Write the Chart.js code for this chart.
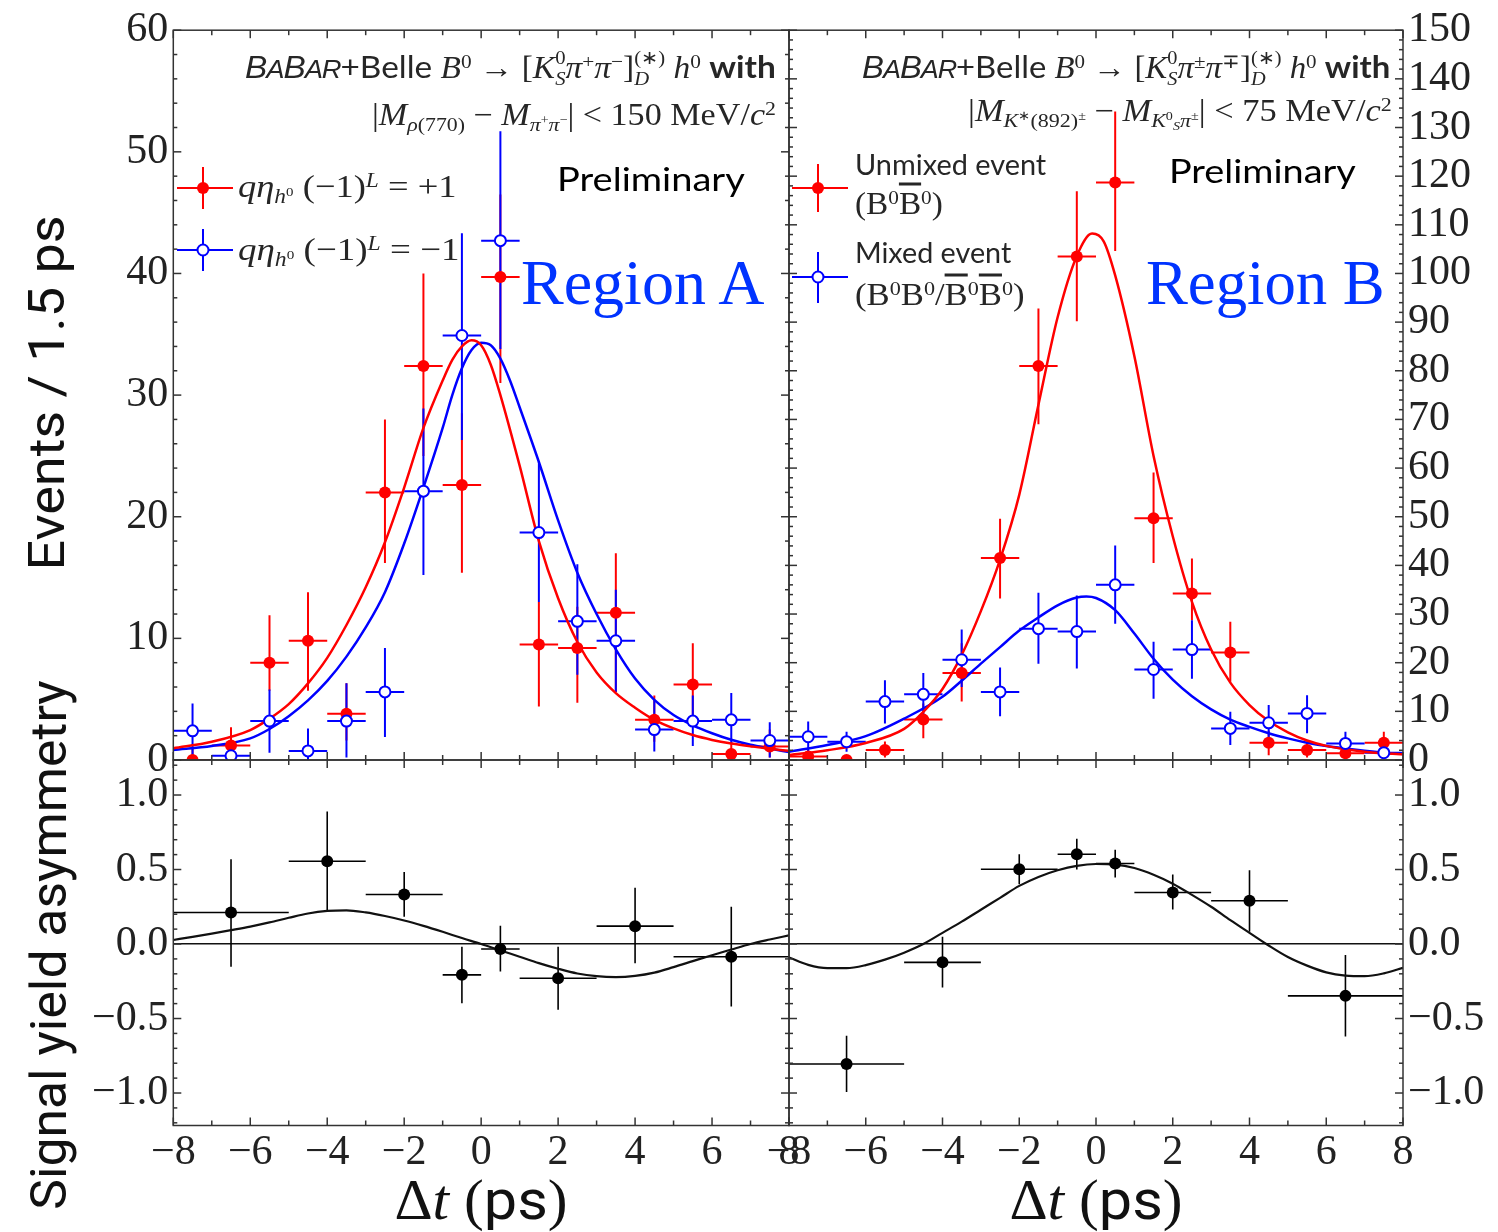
<!DOCTYPE html>
<html>
<head>
<meta charset="utf-8">
<script src="https://cdn.jsdelivr.net/npm/chart.js@4.4.1/dist/chart.umd.min.js"></script>
<style>
body { margin:0; background:#fff; width:1498px; height:1232px; position:relative; overflow:hidden; }
canvas { position:absolute; }
.t { position:absolute; white-space:nowrap; line-height:1; color:#262626; font-family:"Liberation Serif", serif; }
.r { transform-origin:right center; }
.l { transform-origin:left center; }
.sans { font-family:"Lato", "Open Sans", sans-serif; }
.t sup, .t sub { font-size:0.64em; line-height:0; position:relative; vertical-align:baseline; }
.t sup { top:-0.48em; }
.t sub { top:0.28em; }
.st { display:inline-flex; flex-direction:column; font-size:0.62em; line-height:1.1; vertical-align:0.72em; }
.babar { font-family:"Liberation Sans", sans-serif; font-style:italic; letter-spacing:-1px; }
.babar small { font-size:0.82em; }
.bar { text-decoration:overline; }
</style>
</head>
<body>
<canvas id="cTL" width="830" height="800" style="left:0;top:0"></canvas>
<canvas id="cTR" width="751" height="800" style="left:747px;top:0"></canvas>
<canvas id="cBL" width="830" height="512" style="left:0;top:720px"></canvas>
<canvas id="cBR" width="751" height="512" style="left:747px;top:720px"></canvas>

<svg width="1498" height="1232" style="position:absolute;left:0;top:0">
  <g stroke="#ff0000" stroke-width="2"><line x1="177" y1="188" x2="233" y2="188"/><line x1="203" y1="167" x2="203" y2="209"/></g>
  <circle cx="203" cy="188" r="6" fill="#ff0000"/>
  <g stroke="#0000ff" stroke-width="2"><line x1="177" y1="250" x2="233" y2="250"/><line x1="203" y1="229" x2="203" y2="271"/></g>
  <circle cx="203" cy="250" r="5.5" fill="#fff" stroke="#0000ff" stroke-width="2"/>
  <g stroke="#ff0000" stroke-width="2"><line x1="792" y1="188" x2="848" y2="188"/><line x1="818" y1="164" x2="818" y2="212"/></g>
  <circle cx="818" cy="188" r="6" fill="#ff0000"/>
  <g stroke="#0000ff" stroke-width="2"><line x1="792" y1="277" x2="848" y2="277"/><line x1="818" y1="252" x2="818" y2="303"/></g>
  <circle cx="818" cy="277" r="5.5" fill="#fff" stroke="#0000ff" stroke-width="2"/>
</svg>

<div class="t r" style="right:722px;top:68px;font-size:31px" data-w="531"><span class="babar">B<small>A</small>B<small>AR</small></span><span class="sans">+Belle</span> <i>B</i><sup>0</sup> → [<i>K</i><span class="st"><span>0</span><span><i>S</i></span></span><i>π</i><sup>+</sup><i>π</i><sup>−</sup>]<span class="st"><span>(∗)</span><span><i>D</i></span></span> <i>h</i><sup>0</sup> <span class="sans" style="font-weight:bold">with</span></div>
<div class="t r" style="right:722px;top:114px;font-size:31px" data-w="404">|<i>M</i><sub><i>ρ</i>(770)</sub> − <i>M</i><sub><i>π</i><sup>+</sup><i>π</i><sup>−</sup></sub>| &lt; 150 MeV/<i>c</i><sup>2</sup></div>
<div class="t r" style="right:108px;top:68px;font-size:31px" data-w="528"><span class="babar">B<small>A</small>B<small>AR</small></span><span class="sans">+Belle</span> <i>B</i><sup>0</sup> → [<i>K</i><span class="st"><span>0</span><span><i>S</i></span></span><i>π</i><sup>±</sup><i>π</i><sup>∓</sup>]<span class="st"><span>(∗)</span><span><i>D</i></span></span> <i>h</i><sup>0</sup> <span class="sans" style="font-weight:bold">with</span></div>
<div class="t r" style="right:106px;top:110px;font-size:31px" data-w="424">|<i>M</i><sub><i>K</i><sup>∗</sup>(892)<sup>±</sup></sub> − <i>M</i><sub><i>K</i><sup>0</sup><sub><i>S</i></sub><i>π</i><sup>±</sup></sub>| &lt; 75 MeV/<i>c</i><sup>2</sup></div>

<div class="t l sans" style="left:557px;top:178px;font-size:33px;color:#000" data-w="188">Preliminary</div>
<div class="t l sans" style="left:1169px;top:170px;font-size:33px;color:#000" data-w="187">Preliminary</div>
<div class="t l" style="left:521px;top:283px;font-size:64px;color:#0033ff" data-w="244">Region A</div>
<div class="t l" style="left:1146px;top:283px;font-size:64px;color:#0033ff" data-w="239">Region B</div>

<div class="t l" style="left:238px;top:186px;font-size:32px" data-w="219"><i>qη</i><sub><i>h</i><sup>0</sup></sub> (−1)<sup><i>L</i></sup> = +1</div>
<div class="t l" style="left:238px;top:249px;font-size:32px" data-w="222"><i>qη</i><sub><i>h</i><sup>0</sup></sub> (−1)<sup><i>L</i></sup> = −1</div>
<div class="t l sans" style="left:855px;top:164px;font-size:28px" data-w="191">Unmixed event</div>
<div class="t l" style="left:855px;top:203px;font-size:31px" data-w="88">(B<sup>0</sup><span class="bar">B</span><sup>0</sup>)</div>
<div class="t l sans" style="left:855px;top:252px;font-size:28px" data-w="156">Mixed event</div>
<div class="t l" style="left:855px;top:294px;font-size:31px" data-w="170">(B<sup>0</sup>B<sup>0</sup>/<span class="bar">B</span><sup>0</sup><span class="bar">B</span><sup>0</sup>)</div>

<div class="t" style="left:47px;top:393px;font-size:50px;font-family:'Liberation Sans Narrow','Roboto',sans-serif;color:#111" data-w="355" data-tf="translate(-50%,-50%) rotate(-90deg)">Events / 1.5 ps</div>
<div class="t" style="left:49px;top:945px;font-size:50px;font-family:'Liberation Sans Narrow','Roboto',sans-serif;color:#111" data-w="530" data-tf="translate(-50%,-50%) rotate(-90deg)">Signal yield asymmetry</div>
<div class="t" style="left:481px;top:1200px;font-size:56px;color:#111" data-w="173" data-tf="translate(-50%,-50%)">Δ<i>t</i> (<span style="font-family:'Liberation Sans Narrow','Roboto',sans-serif">ps</span>)</div>
<div class="t" style="left:1096px;top:1200px;font-size:56px;color:#111" data-w="173" data-tf="translate(-50%,-50%)">Δ<i>t</i> (<span style="font-family:'Liberation Sans Narrow','Roboto',sans-serif">ps</span>)</div>

<script>
const RED = '#ff0000';
const BLUE = '#0000ff';
const INK = '#222222';

// histogram bins in delta t (ps)
const binX  = [-7.5, -6.5, -5.5, -4.5, -3.5, -2.5, -1.5, -0.5, 0.5, 1.5, 2.5, 3.5, 4.5, 5.5, 6.5, 7.5];
const binLo = [-8, -7, -6, -5, -4, -3, -2, -1, 0, 1, 2, 3, 4, 5, 6, 7];
const binHi = [-7, -6, -5, -4, -3, -2, -1, 0, 1, 2, 3, 4, 5, 6, 7, 8];

// Region A : q eta (-1)^L = +1 (red) and -1 (blue)
const redA    = [0, 1.2, 8.0, 9.8, 3.8, 22.0, 32.4, 22.6, 39.7, 9.5, 9.2, 12.1, 3.3, 6.2, 0.5, 1.1];
const redAHi  = [1.0, 2.7, 11.9, 13.8, 6.3, 28.0, 40.0, 28.5, 46.5, 13.0, 12.6, 17.0, 5.3, 9.6, 1.5, 2.5];
const redALo  = [0, 0.2, 5.7, 5.7, 1.6, 16.2, 25.0, 15.4, 31.0, 4.4, 4.7, 5.6, 1.5, 3.6, 0, 0.2];
const blueA   = [2.4, 0.35, 3.2, 0.75, 3.2, 5.6, 22.1, 34.9, 42.7, 18.7, 11.4, 9.8, 2.5, 3.2, 3.3, 1.6];
const blueAHi = [4.65, 1.4, 5.8, 2.6, 6.3, 9.2, 28.9, 43.3, 51.7, 24.5, 16.1, 14.0, 4.9, 5.3, 5.5, 3.1];
const blueALo = [0.3, 0, 0.6, 0, 0.2, 1.9, 15.2, 26.3, 33.8, 13.0, 7.0, 5.6, 0.7, 1.15, 1.4, 0.2];

const redCurveAX  = [-8, -7, -6, -5.5, -5, -4.5, -4, -3.5, -3, -2.5, -2, -1.5, -1, -0.75, -0.5, -0.25, 0, 0.25, 0.5, 1, 1.5, 2, 2.5, 3, 3.5, 4, 4.5, 5, 5.5, 6, 6.5, 7, 7.5, 8];
const redCurveAY  = [0.96, 1.5, 2.46, 3.4, 4.6, 6.3, 8.4, 11.1, 14.2, 17.9, 22.4, 27.3, 31.2, 32.9, 34.0, 34.5, 34.1, 32.5, 30.0, 24.2, 18.0, 13.3, 9.7, 7.2, 5.5, 4.3, 3.3, 2.6, 2.05, 1.65, 1.35, 1.12, 0.93, 0.75];
const blueCurveAX = [-8, -7, -6, -5.5, -5, -4.5, -4, -3.5, -3, -2.5, -2, -1.5, -1, -0.75, -0.5, -0.25, 0, 0.25, 0.5, 0.75, 1, 1.5, 2, 2.5, 3, 3.5, 4, 4.5, 5, 5.5, 6, 6.5, 7, 7.5, 8];
const blueCurveAY = [0.82, 1.15, 1.78, 2.55, 3.6, 4.9, 6.5, 8.5, 10.9, 13.8, 17.8, 22.4, 27.3, 30.0, 32.2, 33.7, 34.3, 34.1, 33.0, 31.2, 29.0, 24.5, 19.7, 15.4, 12.0, 9.1, 6.7, 4.95, 3.7, 2.85, 2.2, 1.66, 1.25, 0.94, 0.65];

// Region B : unmixed (red) and mixed (blue)
const redB    = [0.7, 0, 2.05, 8.3, 17.9, 41.5, 81.0, 103.5, 118.7, 49.7, 34.2, 22.1, 3.56, 2.05, 1.37, 3.56];
const redBHi  = [2.0, 0.8, 3.8, 11.6, 24.0, 49.6, 92.8, 116.9, 133.3, 59.1, 41.4, 28.4, 6.0, 3.8, 3.0, 5.8];
const redBLo  = [0, 0, 0.5, 4.45, 12.0, 33.2, 69.0, 90.2, 104.6, 40.5, 28.7, 16.1, 1.0, 0.5, 0.2, 1.6];
const blueB   = [4.78, 3.76, 12.0, 13.5, 20.6, 14.0, 27.0, 26.4, 36.0, 18.6, 22.7, 6.5, 7.65, 9.57, 3.4, 1.5];
const blueBHi = [7.9, 5.8, 16.4, 17.9, 26.8, 19.0, 34.4, 33.8, 44.1, 24.3, 28.7, 9.9, 11.3, 13.3, 5.8, 3.0];
const blueBLo = [1.7, 1.7, 7.5, 8.9, 15.0, 9.0, 19.8, 18.8, 28.0, 12.6, 16.7, 3.1, 4.45, 5.5, 1.2, 0.3];

const redCurveBX  = [-8, -7, -6, -5, -4.5, -4, -3.5, -3, -2.5, -2, -1.5, -1, -0.5, -0.1, 0.2, 0.5, 1, 1.5, 2, 2.5, 3, 3.5, 4, 4.5, 5, 5.5, 6, 6.5, 7, 7.5, 8];
const redCurveBY  = [1.0, 2.0, 3.5, 6.4, 9.9, 14.6, 21.6, 30.6, 41.2, 54.5, 73.0, 91.0, 103.6, 108.2, 106.6, 99.6, 83.0, 62.5, 46.0, 32.5, 22.7, 15.9, 11.3, 8.0, 5.7, 4.0, 2.9, 2.2, 1.7, 1.37, 1.2];
const blueCurveBX = [-8, -7, -6, -5, -4, -3.5, -3, -2.5, -2, -1.5, -1, -0.5, -0.25, 0, 0.5, 1, 1.5, 2, 2.5, 3, 3.5, 4, 4.5, 5, 5.5, 6, 6.5, 7, 7.5, 8];
const blueCurveBY = [1.7, 3.1, 4.9, 8.5, 13.0, 16.3, 19.8, 23.2, 26.6, 29.3, 31.8, 33.4, 33.6, 33.3, 30.8, 26.0, 20.8, 16.5, 13.1, 10.4, 8.3, 6.8, 5.5, 4.45, 3.56, 2.87, 2.35, 1.9, 1.5, 1.23];

// signal yield asymmetry
const asymX  = [-6.5, -4, -2, -0.5, 0.5, 2, 4, 6.5];
const asymLo = [-8, -5, -3, -1, 0, 1, 3, 5];
const asymHi = [-5, -3, -1, 0, 1, 3, 5, 8];
const asymA    = [0.212, 0.555, 0.332, -0.207, -0.033, -0.23, 0.12, -0.085];
const asymAHi  = [0.569, 0.89, 0.484, -0.018, 0.123, -0.018, 0.377, 0.25];
const asymALo  = [-0.152, 0.216, 0.183, -0.397, -0.185, -0.441, -0.129, -0.419];
const asymB    = [-0.805, -0.123, 0.502, 0.602, 0.54, 0.346, 0.29, -0.348];
const asymBHi  = [-0.615, 0.049, 0.602, 0.707, 0.633, 0.466, 0.495, -0.074];
const asymBLo  = [-0.994, -0.292, 0.401, 0.5, 0.446, 0.232, 0.082, -0.62];
const asymCurveAX = [-8, -7.5, -7, -6.5, -6, -5.5, -5, -4.5, -4, -3.5, -3, -2.5, -2, -1.5, -1, -0.5, 0, 0.5, 1, 1.5, 2, 2.5, 3, 3.5, 4, 4.5, 5, 5.5, 6, 6.5, 7, 7.5, 8];
const asymCurveAY = [0.027, 0.048, 0.07, 0.093, 0.117, 0.145, 0.176, 0.205, 0.222, 0.226, 0.212, 0.188, 0.158, 0.122, 0.082, 0.04, 0.0, -0.043, -0.085, -0.128, -0.166, -0.198, -0.216, -0.222, -0.214, -0.192, -0.155, -0.115, -0.075, -0.037, 0.0, 0.03, 0.058];
const asymCurveBX = [-8, -7.5, -7, -6.5, -6, -5.5, -5, -4.5, -4, -3.5, -3, -2.5, -2, -1.5, -1, -0.5, 0, 0.5, 1, 1.5, 2, 2.5, 3, 3.5, 4, 4.5, 5, 5.5, 6, 6.5, 7, 7.5, 8];
const asymCurveBY = [-0.09, -0.14, -0.162, -0.162, -0.142, -0.105, -0.058, 0.0, 0.075, 0.15, 0.23, 0.31, 0.39, 0.45, 0.495, 0.525, 0.537, 0.533, 0.51, 0.465, 0.405, 0.33, 0.25, 0.16, 0.075, -0.01, -0.087, -0.145, -0.19, -0.212, -0.216, -0.197, -0.16];

// axis ticks
const xTicks = [-8, -6, -4, -2, 0, 2, 4, 6, 8];
const xTickLabels = ['−8', '−6', '−4', '−2', '0', '2', '4', '6', '8'];
const yTicksA = [0, 10, 20, 30, 40, 50, 60];
const yTickLabelsA = ['0', '10', '20', '30', '40', '50', '60'];
const yTicksB = [0, 10, 20, 30, 40, 50, 60, 70, 80, 90, 100, 110, 120, 130, 140, 150];
const yTickLabelsB = ['0', '10', '20', '30', '40', '50', '60', '70', '80', '90', '100', '110', '120', '130', '140', '150'];
const yTicksAsym = [-1, -0.5, 0, 0.5, 1];
const yTickLabelsAsym = ['−1.0', '−0.5', '0.0', '0.5', '1.0'];

const TICKFONT = { family: 'Liberation Serif', size: 42 };

function pointSet(xs, ys, hi, lo, xl, xh, color, filled, order) {
    return {
        type: 'scatter',
        data: xs.map((x, i) => ({ x: x, y: ys[i] })),
        errHi: hi, errLo: lo, xLo: xl, xHi: xh,
        errWidth: color === '#000000' ? 1.6 : 2,
        borderColor: color,
        backgroundColor: filled ? color : '#ffffff',
        pointRadius: filled ? 6 : 5.5,
        pointBorderWidth: filled ? 0 : 2,
        clip: 0,
        order: order
    };
}

function curveSet(xs, ys, color, width) {
    return {
        type: 'line',
        data: xs.map((x, i) => ({ x: x, y: ys[i] })),
        borderColor: color,
        borderWidth: width,
        pointRadius: 0,
        cubicInterpolationMode: 'monotone',
        fill: false,
        clip: 0,
        order: 5
    };
}

const errorBars = {
    id: 'errorBars',
    beforeDatasetsDraw(chart) {
        const { ctx, chartArea } = chart;
        const xs = chart.scales.x, ys = chart.scales.y;
        ctx.save();
        ctx.beginPath();
        ctx.rect(chartArea.left, chartArea.top, chartArea.width, chartArea.height);
        ctx.clip();
        chart.data.datasets.forEach(ds => {
            if (!ds.errHi) return;
            ctx.strokeStyle = ds.borderColor;
            ctx.lineWidth = ds.errWidth;
            ds.data.forEach((p, i) => {
                const px = xs.getPixelForValue(p.x), py = ys.getPixelForValue(p.y);
                ctx.beginPath();
                ctx.moveTo(xs.getPixelForValue(ds.xLo[i]), py);
                ctx.lineTo(xs.getPixelForValue(ds.xHi[i]), py);
                ctx.moveTo(px, ys.getPixelForValue(ds.errHi[i]));
                ctx.lineTo(px, ys.getPixelForValue(ds.errLo[i]));
                ctx.stroke();
            });
        });
        ctx.restore();
    }
};

// box round the plot with small inward ticks on every side
const frame = {
    id: 'frame',
    afterDraw(chart, args, o) {
        const { ctx, chartArea: a } = chart;
        const xs = chart.scales.x, ys = chart.scales.y;
        ctx.save();
        ctx.strokeStyle = '#333';
        ctx.lineWidth = 1.5;
        const seg = (x1, y1, x2, y2) => { ctx.beginPath(); ctx.moveTo(x1, y1); ctx.lineTo(x2, y2); ctx.stroke(); };
        const isMajor = (v, m) => Math.abs(v / m - Math.round(v / m)) < 1e-6;
        for (let v = xs.min; v <= xs.max + 1e-9; v += o.xMinor) {
            const len = isMajor(v, o.xMajor) ? 8 : 5;
            const px = xs.getPixelForValue(v);
            seg(px, a.bottom, px, a.bottom - len);
            seg(px, a.top, px, a.top + len);
        }
        for (let v = Math.ceil(ys.min / o.yMinor - 1e-6) * o.yMinor; v <= ys.max + 1e-9; v += o.yMinor) {
            const len = isMajor(v, o.yMajor) ? 8 : 4;
            const py = ys.getPixelForValue(v);
            seg(a.left, py, a.left + len, py);
            seg(a.right, py, a.right - len, py);
        }
        ctx.strokeRect(a.left, a.top, a.width, a.height);
        ctx.restore();
    }
};

function panelOptions(p) {
    return {
        responsive: false,
        animation: false,
        devicePixelRatio: 1,
        layout: { padding: p.pad },
        plugins: {
            legend: { display: false },
            tooltip: { enabled: false },
            frame: { xMinor: 1, xMajor: 2, yMinor: p.yMinor, yMajor: p.yMajor }
        },
        scales: {
            x: {
                type: 'linear', min: -8, max: 8, display: p.showX,
                afterBuildTicks: s => { s.ticks = xTicks.map(v => ({ value: v })); },
                afterFit: s => { s.height = p.showX ? 106.5 : 0; },
                grid: { display: false, drawTicks: false },
                border: { display: false },
                ticks: {
                    callback: v => xTickLabels[xTicks.indexOf(v)],
                    font: TICKFONT, color: INK, padding: 2,
                    autoSkip: false, maxRotation: 0, minRotation: 0
                }
            },
            y: {
                type: 'linear', position: p.yPos, min: p.yMin, max: p.yMax,
                afterBuildTicks: s => { s.ticks = p.yTicks.map(v => ({ value: v })); },
                afterFit: s => { s.width = p.yWidth; },
                grid: p.zero ? {
                    display: true, drawTicks: false, lineWidth: 1.5,
                    color: c => (c.tick && c.tick.value === 0) ? '#111' : 'rgba(0,0,0,0)'
                } : { display: false, drawTicks: false },
                border: { display: false },
                ticks: {
                    callback: v => p.yLabels[p.yTicks.indexOf(v)],
                    font: TICKFONT, color: INK, padding: 5, autoSkip: false
                }
            }
        }
    };
}

new Chart(document.getElementById('cTL'), {
    type: 'scatter',
    data: { datasets: [
        curveSet(redCurveAX, redCurveAY, RED, 2.5),
        curveSet(blueCurveAX, blueCurveAY, BLUE, 2.5),
        pointSet(binX, redA, redAHi, redALo, binLo, binHi, RED, true, 2),
        pointSet(binX, blueA, blueAHi, blueALo, binLo, binHi, BLUE, false, 1)
    ] },
    options: panelOptions({ pad: { left: 0, top: 28.5, right: 41, bottom: 40 }, showX: false, yPos: 'left', yMin: 0, yMax: 60,
        yTicks: yTicksA, yLabels: yTickLabelsA, yWidth: 173.3, yMinor: 2, yMajor: 10, zero: false }),
    plugins: [errorBars, frame]
});

new Chart(document.getElementById('cTR'), {
    type: 'scatter',
    data: { datasets: [
        curveSet(redCurveBX, redCurveBY, RED, 2.5),
        curveSet(blueCurveBX, blueCurveBY, BLUE, 2.5),
        pointSet(binX, redB, redBHi, redBLo, binLo, binHi, RED, true, 2),
        pointSet(binX, blueB, blueBHi, blueBLo, binLo, binHi, BLUE, false, 1)
    ] },
    options: panelOptions({ pad: { left: 42, top: 28.5, right: 0, bottom: 40 }, showX: false, yPos: 'right', yMin: 0, yMax: 150,
        yTicks: yTicksB, yLabels: yTickLabelsB, yWidth: 95, yMinor: 2, yMajor: 10, zero: false }),
    plugins: [errorBars, frame]
});

new Chart(document.getElementById('cBL'), {
    type: 'scatter',
    data: { datasets: [
        curveSet(asymCurveAX, asymCurveAY, '#111111', 2.2),
        pointSet(asymX, asymA, asymAHi, asymALo, asymLo, asymHi, '#000000', true, 1)
    ] },
    options: panelOptions({ pad: { left: 0, top: 40, right: 41, bottom: 0 }, showX: true, yPos: 'left', yMin: -1.218, yMax: 1.235,
        yTicks: yTicksAsym, yLabels: yTickLabelsAsym, yWidth: 173.3, yMinor: 0.1, yMajor: 0.5, zero: true }),
    plugins: [errorBars, frame]
});

new Chart(document.getElementById('cBR'), {
    type: 'scatter',
    data: { datasets: [
        curveSet(asymCurveBX, asymCurveBY, '#111111', 2.2),
        pointSet(asymX, asymB, asymBHi, asymBLo, asymLo, asymHi, '#000000', true, 1)
    ] },
    options: panelOptions({ pad: { left: 42, top: 40, right: 0, bottom: 0 }, showX: true, yPos: 'right', yMin: -1.218, yMax: 1.235,
        yTicks: yTicksAsym, yLabels: yTickLabelsAsym, yWidth: 95, yMinor: 0.1, yMajor: 0.5, zero: true }),
    plugins: [errorBars, frame]
});

// stretch the overlay texts to the widths they have in the figure
document.querySelectorAll('[data-w]').forEach(el => {
    const k = parseFloat(el.dataset.w) / el.offsetWidth;
    const base = el.dataset.tf || 'translateY(-50%)';
    el.style.transform = base + ' scaleX(' + k.toFixed(3) + ')';
});
</script>
</body>
</html>
